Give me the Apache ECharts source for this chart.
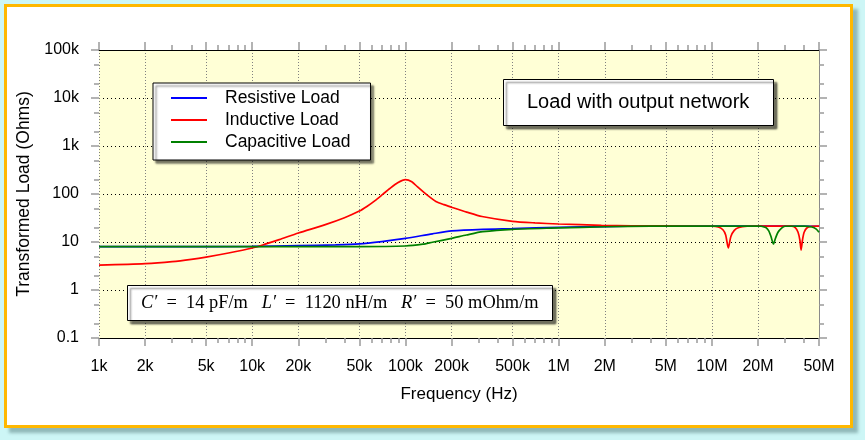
<!DOCTYPE html>
<html><head><meta charset="utf-8">
<script src="https://cdn.jsdelivr.net/npm/echarts@6/dist/echarts.min.js"></script>
<style>
html,body{margin:0;padding:0;width:865px;height:440px;background:#cdf6f6;overflow:hidden;}
#frame{position:absolute;left:4px;top:4px;width:843px;height:418px;border:3px solid #ffb800;background:#fff;box-shadow:5px 5px 3px rgba(70,110,110,0.45);}
#chart{position:absolute;left:0;top:0;width:865px;height:440px;}
</style></head><body>
<div id="frame"></div><div id="chart"></div>
<script>
// ---- tick labels ----
const xTickValues = [1e3,2e3,5e3,1e4,2e4,5e4,1e5,2e5,5e5,1e6,2e6,5e6,1e7,2e7,5e7];
const xTickLabels = ['1k','2k','5k','10k','20k','50k','100k','200k','500k','1M','2M','5M','10M','20M','50M'];
const xMinorTicks = [3e3,4e3,6e3,7e3,8e3,9e3,3e4,4e4,6e4,7e4,8e4,9e4,3e5,4e5,6e5,7e5,8e5,9e5,3e6,4e6,6e6,7e6,8e6,9e6,3e7,4e7];
const yTickValues = [0.1,1,10,100,1e3,1e4,1e5];
const yTickLabels = ['0.1','1','10','100','1k','10k','100k'];
const yMinorTicks = [0.2,0.5,2,5,20,50,200,500,2e3,5e3,2e4,5e4];
const seriesNames = ['Resistive Load','Inductive Load','Capacitive Load'];

// ---- series: Resistive ----
const resFreq = [1e3,3e3,1e4,2e4,3.5e4,5e4,7e4,1e5,1.5e5,2e5,3.2e5,5e5,1e6,2e6,4e6,1e7,2e7,5e7];
const resLoad = [8.0,8.0,8.1,8.4,8.7,9.1,10.2,11.9,14.8,17.0,18.4,19.0,20.2,21.0,21.5,21.5,21.5,21.3];

// ---- series: Inductive ----
const indFreq = [1e3,2e3,3e3,4e3,5e3,7e3,1e4,1.2e4,1.5e4,2e4,3e4,4e4,5e4,5.6e4,6.3e4,7.1e4,7.9e4,8.9e4,1e5,1.1e5,1.2e5,1.32e5,1.45e5,1.58e5,1.78e5,2e5,2.51e5,3.16e5,5e5,7e5,1e6,1.9e6,3e6,5e6,1e7,1.1e7,1.18e7,1.23e7,1.28e7,1.33e7,1.4e7,1.5e7,1.7e7,2e7,3e7,3.3e7,3.5e7,3.65e7,3.75e7,3.82e7,3.9e7,4e7,4.2e7,4.5e7,5e7];
const indLoad = [3.3,3.55,3.9,4.35,4.85,5.9,7.5,8.9,11.2,15.4,23,32,44,55,72,98,130,172,200,180,140,108,85,70,60,53,42,34,27,25,23.7,22.3,21.8,21.6,21.3,20.5,18,14,7.5,13,17.5,20,21.3,21.5,21.5,21.4,20,16,11,6.8,11,16,20,21.3,21.5];

// ---- series: Capacitive ----
const capFreq = [1e3,1e4,2e4,5e4,1e5,1.3e5,1.5e5,2e5,2.5e5,3.2e5,5e5,1e6,2e6,4e6,1e7,2e7,2.1e7,2.25e7,2.35e7,2.43e7,2.52e7,2.6e7,2.7e7,2.85e7,3e7,4e7,4.5e7,4.8e7,5e7];
const capLoad = [8.0,8.0,8.0,8.0,8.25,9.0,9.9,11.9,14,16.4,18.4,19.6,20.8,21.4,21.5,21.5,21.3,20,17,13,9.1,12,16,19.5,21.3,21.4,20.5,18.5,16];

const L = Math.log10;
const FONT = 'Liberation Sans';
const TICK = '#9a9a9a';
const xMin = L(xTickValues[0]), xMax = L(xTickValues[xTickValues.length - 1]);
const yMin = L(yTickValues[0]), yMax = L(yTickValues[yTickValues.length - 1]);

function labelFor(vals, labels, v) {
  const i = vals.findIndex(t => Math.abs(L(t) - v) < 1e-6);
  return i >= 0 ? labels[i] : '';
}

function xOverlay(position, ticks, len, withLabels, withSplit, lineColor) {
  return {
    type: 'value', gridIndex: 0, position: position, min: xMin, max: xMax,
    axisLine: { show: !!lineColor, onZero: false, lineStyle: { color: lineColor || '#000', width: 1.2 } },
    axisTick: { show: true, inside: false, length: len, customValues: ticks.map(L), lineStyle: { color: TICK, width: 1.5 } },
    axisLabel: withLabels ? {
      show: true, customValues: ticks.map(L), margin: 21,
      fontFamily: FONT, fontSize: 16, color: '#000',
      formatter: v => labelFor(xTickValues, xTickLabels, v)
    } : { show: false },
    splitLine: { show: withSplit, lineStyle: { color: '#808080', type: [1, 2], width: 1 } },
    name: withLabels ? 'Frequency (Hz)' : '', nameLocation: 'middle', nameGap: 48,
    nameTextStyle: { fontFamily: FONT, fontSize: 17, color: '#000' }
  };
}
function yOverlay(position, ticks, len, withLabels, withSplit, lineColor) {
  return {
    type: 'value', gridIndex: 0, position: position, min: yMin, max: yMax,
    axisLine: { show: !!lineColor, onZero: false, lineStyle: { color: lineColor || '#000', width: 1 } },
    axisTick: { show: true, inside: false, length: len, customValues: ticks.map(L), lineStyle: { color: TICK, width: 1.5 } },
    axisLabel: withLabels ? {
      show: true, customValues: ticks.map(L), margin: 20,
      fontFamily: FONT, fontSize: 16, color: '#000',
      formatter: v => labelFor(yTickValues, yTickLabels, v)
    } : { show: false },
    splitLine: { show: withSplit, lineStyle: { color: '#000', type: [1, 3], width: 1 } },
    name: withLabels ? 'Transformed Load (Ohms)' : '', nameLocation: 'middle', nameGap: 59,
    nameTextStyle: { fontFamily: FONT, fontSize: 17.5, color: '#000' }
  };
}

function pairs(f, v) { return f.map((x, i) => [x, v[i]]); }
const colors = ['#0000ff', '#ff0000', '#008000'];
const dataSets = [pairs(resFreq, resLoad), pairs(indFreq, indLoad), pairs(capFreq, capLoad)];

const shadow = { shadowColor: 'rgba(0,0,0,0.55)', shadowBlur: 2, shadowOffsetX: 3, shadowOffsetY: 3 };

const option = {
  animation: false,
  grid: { left: 99, right: 46, top: 50, bottom: 102, show: true, backgroundColor: '#ffffd6', borderWidth: 0 },
  xAxis: [
    { type: 'log', logBase: 10, min: xTickValues[0], max: xTickValues[xTickValues.length - 1], show: false, gridIndex: 0 },
    xOverlay('bottom', xTickValues, 8, true, true, '#000'),
    xOverlay('bottom', xMinorTicks, 5, false, false, null),
    xOverlay('top', xTickValues, 8, false, false, '#000'),
    xOverlay('top', xMinorTicks, 5, false, false, null)
  ],
  yAxis: [
    { type: 'log', logBase: 10, min: yTickValues[0], max: yTickValues[yTickValues.length - 1], show: false, gridIndex: 0 },
    yOverlay('left', yTickValues, 8, true, true, null),
    yOverlay('left', yMinorTicks, 5, false, false, null),
    yOverlay('right', yTickValues, 8, false, false, '#8a8a8a'),
    yOverlay('right', yMinorTicks, 5, false, false, null)
  ],
  legend: Object.assign({
    data: seriesNames, orient: 'vertical', left: 153, top: 83,
    padding: [6, 20, 9, 18], itemWidth: 36, itemHeight: 2, icon: 'rect', itemGap: 4,
    backgroundColor: '#fff', borderColor: '#000', borderWidth: 1, borderRadius: 0,
    selectedMode: false,
    formatter: n => '{p|' + n + '}',
    textStyle: { fontFamily: FONT, fontSize: 17.5, color: '#000',
      rich: { p: { fontFamily: FONT, fontSize: 17.5, color: '#000', padding: [0, 0, 0, 13] } } }
  }, shadow),
  title: [
    Object.assign({
      text: 'Load with output network', left: 503, top: 80, padding: [13, 24, 13, 24],
      backgroundColor: '#fff', borderColor: '#000', borderWidth: 1,
      textStyle: { fontFamily: FONT, fontSize: 20, fontWeight: 'normal', color: '#000', lineHeight: 19 }
    }, shadow),
    Object.assign({
      text: '{i|C\u2032}{n|  =  14 pF/m   }{i|L\u2032}{n|  =  1120 nH/m   }{i|R\u2032}{n|  =  50 mOhm/m}',
      left: 127, top: 285, padding: [9, 14, 9, 14],
      backgroundColor: '#fff', borderColor: '#000', borderWidth: 1,
      textStyle: { fontFamily: 'Liberation Serif', fontSize: 18.4, fontWeight: 'normal', color: '#000',
        rich: {
          i: { fontFamily: 'Liberation Serif', fontSize: 18.4, fontStyle: 'italic', color: '#000' },
          n: { fontFamily: 'Liberation Serif', fontSize: 18.4, color: '#000' }
        } }
    }, shadow)
  ],
  series: seriesNames.map((n, k) => ({
    name: n, type: 'line', xAxisIndex: 0, yAxisIndex: 0,
    data: dataSets[k], symbol: 'none', smooth: 0.25,
    lineStyle: { color: colors[k], width: 1.7 }, itemStyle: { color: colors[k] },
    z: 3 + k
  }))
};
const chart = echarts.init(document.getElementById('chart'), null, { renderer: 'canvas' });
chart.setOption(option);
</script></body></html>
